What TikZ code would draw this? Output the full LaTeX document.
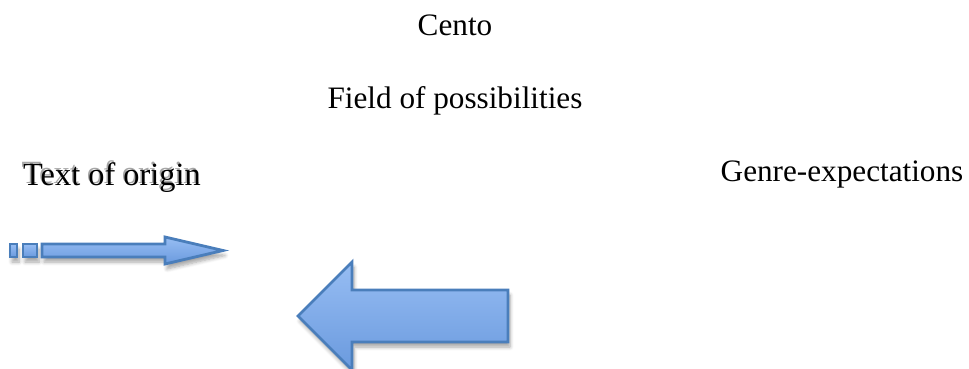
\documentclass[tikz,border=0pt]{standalone}
\usepackage{fontspec}
\setmainfont{Liberation Serif}
\usetikzlibrary{shadows.blur}
\definecolor{arrowline}{HTML}{4A7EBB}
\definecolor{arrowtop}{HTML}{97BDF3}
\definecolor{arrowbottom}{HTML}{6A9ADE}
\begin{document}
\begin{tikzpicture}
[x=0.5pt,y=-0.5pt,
  labeldecorate/.style={font=\fontsize{15.6}{19}\selectfont,inner sep=0pt,anchor=base},
  arrowdecorate/.style={draw=arrowline,line width=1.4pt,line join=miter,
    top color=arrowtop,bottom color=arrowbottom,
    blur shadow={shadow xshift=1pt,shadow yshift=-2.5pt,shadow blur steps=6,shadow opacity=35}}]
\useasboundingbox (0,0) rectangle (969,369);
%%% labels
% titles
\node (cento) at (455,36) [labeldecorate] {Cento};
\node (field) at (455,109) [labeldecorate] {Field of possibilities};
% sources
\node (origin shadow) at (110.5,183.5) [labeldecorate,font=\fontsize{16.2}{19}\selectfont,text=gray!70] {Text of origin};
\node (origin) at (112,185) [labeldecorate,font=\fontsize{16.2}{19}\selectfont] {Text of origin};
\node (genre) at (842,182) [labeldecorate] {Genre-expectations};
%
%%% arrows
% striped arrow
\draw[arrowdecorate] (10,244) rectangle (17,257);
\draw[arrowdecorate] (23,244) rectangle (37,257);
\draw[arrowdecorate] (42,244) -- (165,244) -- (165,237) -- (223,250.5)
  -- (165,264) -- (165,257) -- (42,257) -- cycle;
% block arrow
\draw[arrowdecorate] (508,290) -- (352,290) -- (352,262) -- (298,316)
  -- (352,370) -- (352,342) -- (508,342) -- cycle;
\end{tikzpicture}
\end{document}
